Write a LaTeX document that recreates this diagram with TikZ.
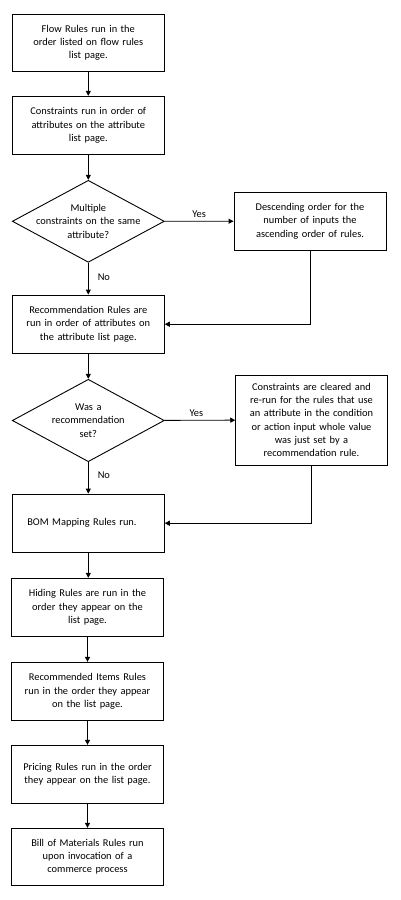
\documentclass[tikz,border=0pt]{standalone}
\usepackage{fontspec}
\setmainfont{Carlito}
\usetikzlibrary{shapes.geometric,arrows.meta}
\begin{document}
\begin{tikzpicture}[x=1pt,y=-1pt,
  every node/.style={font=\fontsize{10.4}{13.3}\selectfont, text=black},
  stepbox/.style={draw=black, line width=0.9pt, rectangle, minimum width=152pt, align=center, text width=142pt, inner sep=0pt},
  dia/.style={draw=black, line width=0.9pt, diamond, minimum width=152pt, minimum height=82pt, inner sep=0pt},
  txt/.style={align=center, text width=110pt, inner sep=0pt},
  lbl/.style={inner sep=0pt},
  arr/.style={line width=0.9pt, -{Triangle[width=5pt,length=5pt]}}]
\useasboundingbox[fill=white] (0,0) rectangle (400,900);
\node[stepbox, minimum height=57pt] (b1) at (88.3,42.6) {Flow Rules run in the\\order listed on flow rules\\list page.};
\node[stepbox, minimum height=58pt] (b2) at (88.3,125.3) {Constraints run in order of\\attributes on the attribute\\list page.};
\node[dia] (d1) at (88.3,221.3) {};
\node[txt] at (d1) {Multiple\\constraints on the same\\attribute?};
\node[stepbox, minimum height=58pt] (r1) at (310,221.2) {Descending order for the\\number of inputs the\\ascending order of rules.};
\node[stepbox, minimum height=58.3pt] (b3) at (88.3,324.2) {Recommendation Rules are\\run in order of attributes on\\the attribute list page.};
\node[dia, minimum height=82.4pt] (d2) at (88.3,420.5) {};
\node[txt] at (d2) {Was a\\recommendation\\set?};
\node[stepbox, minimum width=151.6pt, minimum height=90pt] (r2) at (311.5,420) {Constraints are cleared and\\re-run for the rules that use\\an attribute in the condition\\or action input whole value\\was just set by a\\recommendation rule.};
\node[stepbox, align=left, minimum height=58.3pt] (b4) at (88.3,523.2) {\hspace*{10pt}BOM Mapping Rules run.};
\node[stepbox, minimum width=152.4pt, minimum height=58.4pt] (b5) at (87.5,607.5) {Hiding Rules are run in the\\order they appear on the\\list page.};
\node[stepbox, minimum width=152.4pt, minimum height=58pt] (b6) at (87.5,691.3) {Recommended Items Rules\\run in the order they appear\\on the list page.};
\node[stepbox, minimum width=152.4pt, minimum height=58pt] (b7) at (87.5,774.3) {Pricing Rules run in the order\\they appear on the list page.};
\node[stepbox, minimum width=152.4pt, minimum height=57pt] (b8) at (87.5,856.8) {Bill of Materials Rules run\\upon invocation of a\\commerce process};
\draw[arr] (b1) -- (b2);
\draw[arr] (b2) -- (d1);
\draw[arr] (d1) -- (r1) node[lbl, pos=0.5, above=3.5pt] (y1) {Yes};
\draw[arr] (d1) -- (b3) node[lbl, pos=0.45, right=9pt] (n1) {No};
\draw[arr] (r1.south) |- (b3.east);
\draw[arr] (b3) -- (d2);
\draw[arr] (d2) -- (r2) node[lbl, pos=0.45, above=3.5pt] (y2) {Yes};
\draw[arr] (d2) -- (b4) node[lbl, pos=0.4, right=9pt] (n2) {No};
\draw[arr] (r2.south) |- (b4.east);
\draw[arr] (b4.south) -- (b4.south |- b5.north);
\draw[arr] (b5) -- (b6);
\draw[arr] (b6) -- (b7);
\draw[arr] (b7) -- (b8);
\end{tikzpicture}
\end{document}
